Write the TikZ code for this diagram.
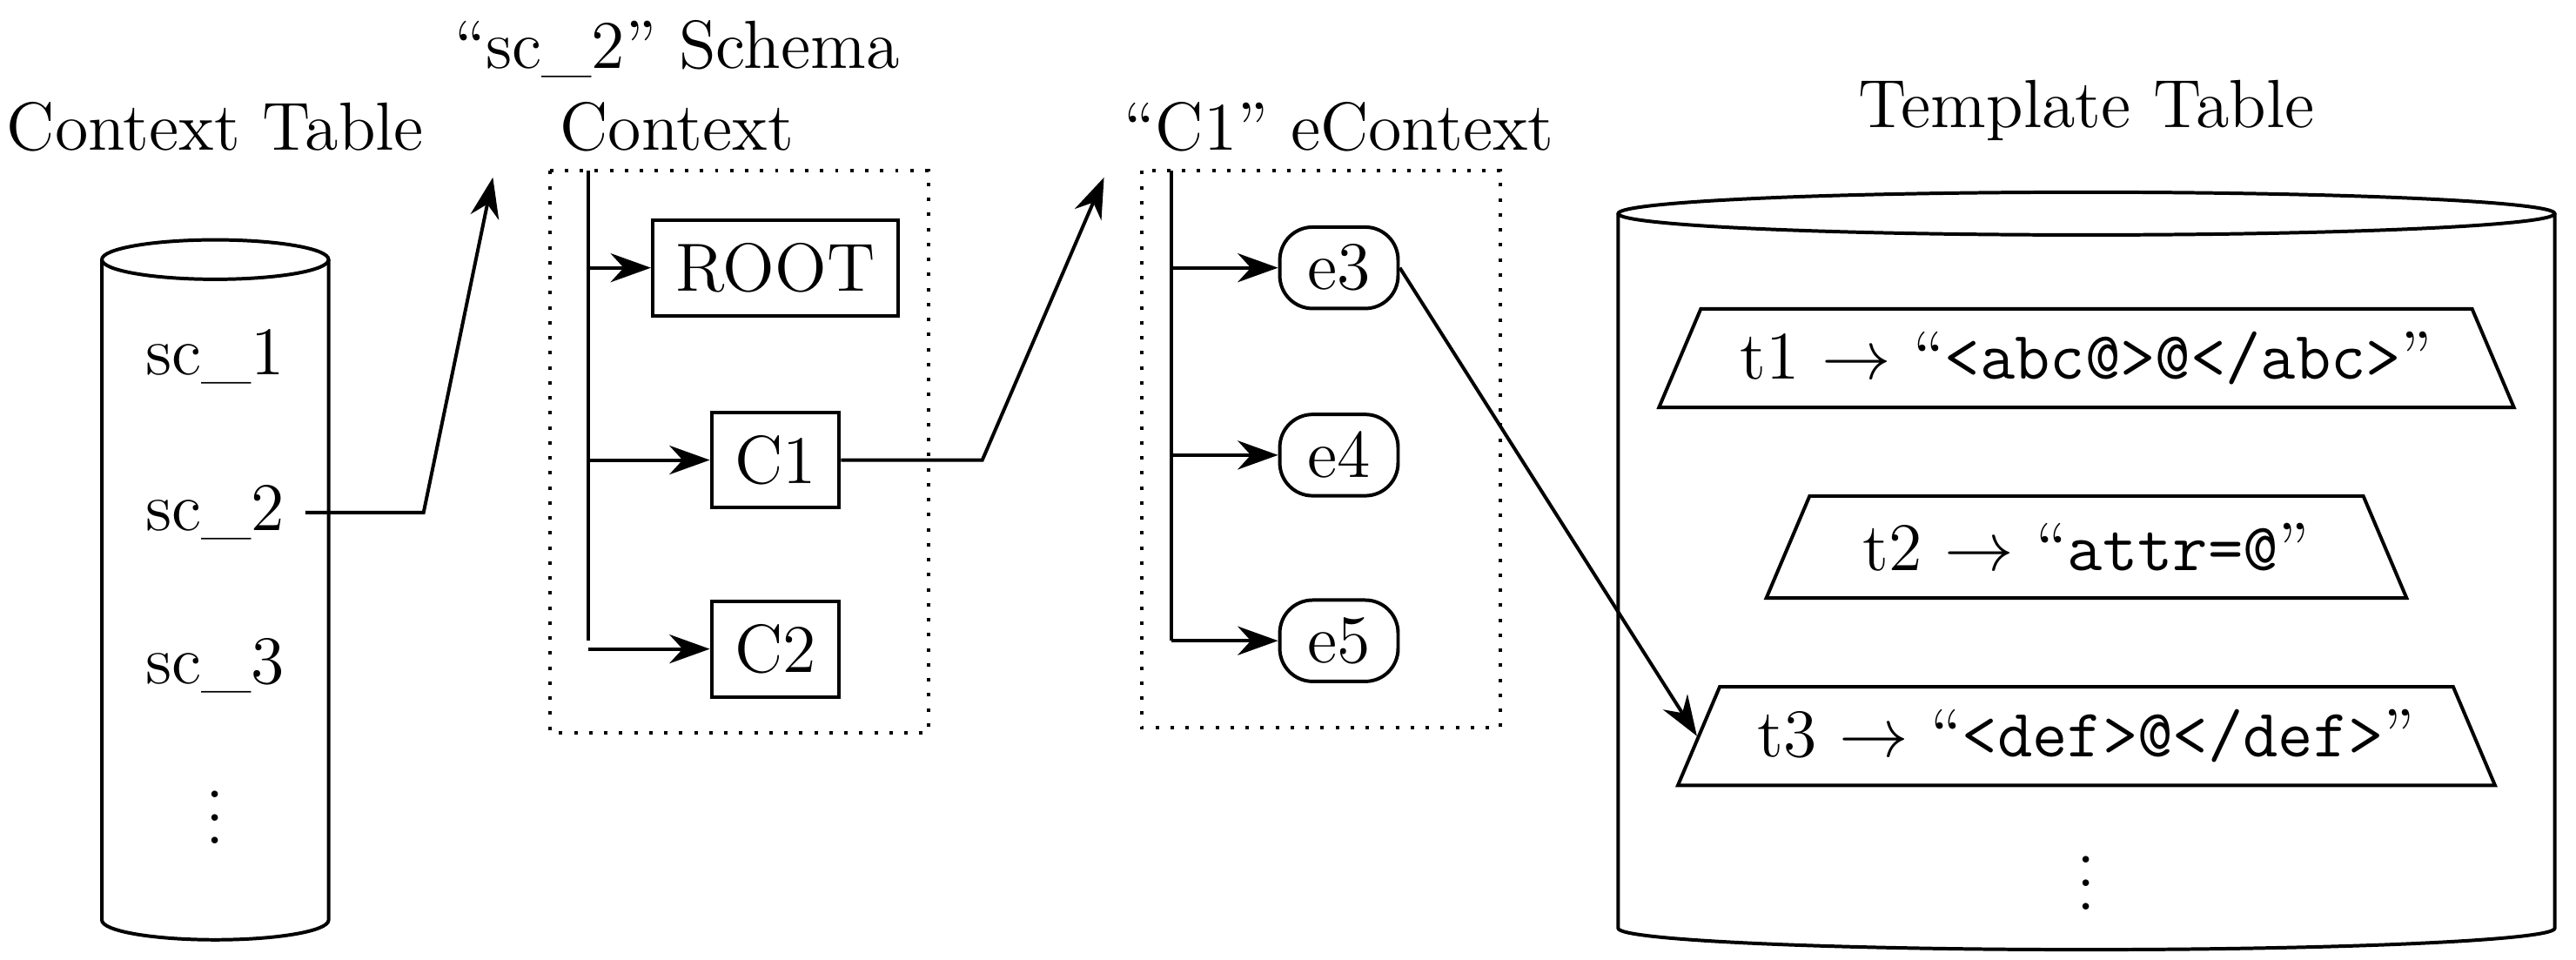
\documentclass[tikz,border=0pt]{standalone}
\usepackage{fontspec}
\usetikzlibrary{shapes.geometric,arrows.meta,positioning}
\tikzset{
	every node/.style={font=\fontsize{11.8}{14}\selectfont},
	conn/.style={-{Stealth[length=7pt,width=5pt]},semithick},
	sbox/.style={draw,semithick,rectangle,inner sep=4pt,minimum height=0.44cm},
	ebox/.style={draw,semithick,rounded corners=0.2cm,minimum width=0.72cm,minimum height=0.44cm,inner sep=3pt},
	tpl/.style={draw,semithick,trapezium,trapezium angle=67,minimum height=0.6cm,inner xsep=2pt},
	frame/.style={dotted,semithick}
}
\begin{document}
\begin{tikzpicture}
		\useasboundingbox (0,0) rectangle (15.68,5.84);
		% context table
		\node at (1.31,5.07) {Context Table};
		\draw[semithick] (1.31,4.26) ellipse (0.69 and 0.12);
		\draw[semithick] (0.62,4.26)--(0.62,0.24) arc (180:360:0.69 and 0.12)--(2.00,4.26);
		\node (sc1) at (1.31,3.67) {sc\_1};
		\node (sc2) at (1.31,2.72) {sc\_2};
		\node (sc3) at (1.31,1.79) {sc\_3};
		\node at (1.31,0.97) {$\vdots$};
		
		% schema context
		\node at (4.12,5.54) {“sc\_2” Schema};
		\node at (4.12,5.07) {Context};
		\draw[frame] (3.35,4.80) rectangle (5.65,1.38);
		\coordinate (stop) at (3.58,4.80);
		\coordinate (sbot) at (3.58,1.94);
		\draw[semithick] (stop)--(sbot);
		\node[sbox] (root) at (4.72,4.21) {ROOT};
		\node[sbox] (c1) at (4.72,3.04) {C1};
		\node[sbox] (c2) at (4.72,1.89) {C2};
		\foreach \n in {root,c1,c2}
			\draw[conn] (\n.west -| stop)--(\n.west);
		\coordinate (sin) at (3.00,4.76);
		\draw[conn] (sc2.east)--++(0.72,0) coordinate (k1)--(sin);
		
		% econtext
		\node at (8.15,5.07) {“C1” eContext};
		\draw[frame] (6.95,4.80) rectangle (9.13,1.41);
		\coordinate (etop) at (7.13,4.80);
		\coordinate (ebot) at (7.13,1.94);
		\draw[semithick] (etop)--(ebot);
		\node[ebox] (e3) at (8.15,4.21) {e3};
		\node[ebox] (e4) at (8.15,3.07) {e4};
		\node[ebox] (e5) at (8.15,1.94) {e5};
		\foreach \n in {e3,e4,e5}
			\draw[conn] (\n.west -| etop)--(\n.west);
		\coordinate (ein) at (6.72,4.76);
		\draw[conn] (c1.east)--++(0.86,0) coordinate (k2)--(ein);
		
		% template table
		\node at (12.70,5.17) {Template Table};
		\draw[semithick] (12.70,4.54) ellipse (2.85 and 0.13);
		\draw[semithick] (9.85,4.54)--(9.85,0.19) arc (180:360:2.85 and 0.13)--(15.55,4.54);
		\node[tpl,minimum width=5.0cm] (t1) at (12.70,3.66) {t1 $\rightarrow$ “\texttt{<abc@>@</abc>}”};
		\node[tpl,minimum width=3.9cm] (t2) at (12.70,2.51) {t2 $\rightarrow$ “\texttt{attr=@}”};
		\node[tpl,minimum width=4.95cm] (t3) at (12.70,1.36) {t3 $\rightarrow$ “\texttt{<def>@</def>}”};
		\node at (12.70,0.57) {$\vdots$};
		\draw[conn] (e3.east)--(t3.west);
\end{tikzpicture}
\end{document}
